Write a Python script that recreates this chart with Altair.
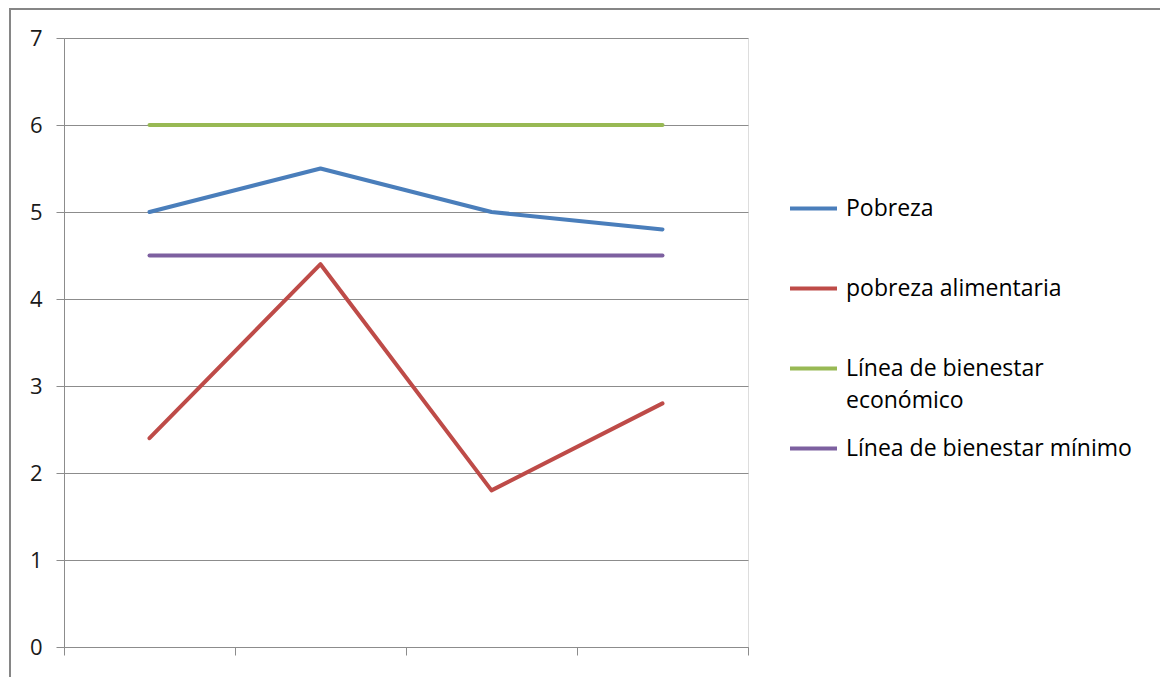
import altair as alt
import pandas as pd

# Periods along the horizontal axis (no labels shown on the axis)
periods = [1, 2, 3, 4]

series_names = [
    "Pobreza",
    "pobreza alimentaria",
    "Línea de bienestar económico",
    "Línea de bienestar mínimo",
]
pobreza = [5.0, 5.5, 5.0, 4.8]
pobreza_alimentaria = [2.4, 4.4, 1.8, 2.8]
bienestar_economico = [6.0, 6.0, 6.0, 6.0]
bienestar_minimo = [4.5, 4.5, 4.5, 4.5]

series_colors = ["#4A7EBB", "#BE4B48", "#98B954", "#7D60A0"]
y_ticks = [0, 1, 2, 3, 4, 5, 6, 7]
x_ticks = [0.5, 1.5, 2.5, 3.5, 4.5]

rows = []
for name, values in zip(
    series_names,
    [pobreza, pobreza_alimentaria, bienestar_economico, bienestar_minimo],
):
    for p, v in zip(periods, values):
        rows.append({"periodo": p, "valor": v, "serie": name})
df = pd.DataFrame(rows)

FONT = "Open Sans"
GRID = "#8c8c8c"

# Every legend label takes two lines so all rows share the same height;
# the long economic-line label wraps onto its second line.
label_expr = (
    "datum.label == 'Línea de bienestar económico' "
    "? ['Línea de bienestar', 'económico'] : [datum.label, '']"
)

lines = alt.Chart(df).mark_line(
    strokeWidth=4, strokeCap="round", strokeJoin="round"
).encode(
    x=alt.X(
        "periodo:Q",
        scale=alt.Scale(domain=[0.5, 4.5], nice=False, zero=False),
        axis=alt.Axis(
            values=x_ticks,
            labels=False,
            grid=False,
            ticks=True,
            tickSize=8,
            tickColor=GRID,
            domainColor=GRID,
            title=None,
        ),
    ),
    y=alt.Y(
        "valor:Q",
        scale=alt.Scale(domain=[0, 7], nice=False),
        axis=alt.Axis(
            values=y_ticks,
            grid=True,
            gridColor=GRID,
            tickSize=8,
            tickColor=GRID,
            domainColor=GRID,
            labelFont=FONT,
            labelFontSize=22,
            labelColor="#1a1a1a",
            labelPadding=14,
            title=None,
        ),
    ),
    color=alt.Color(
        "serie:N",
        scale=alt.Scale(domain=series_names, range=series_colors),
        legend=alt.Legend(
            title=None,
            orient="none",
            legendX=724,
            legendY=145,
            padding=0,
            symbolType="stroke",
            symbolSize=2209,
            symbolStrokeWidth=4,
            labelFont=FONT,
            labelFontSize=23,
            labelColor="#000000",
            labelOffset=7,
            labelLimit=0,
            rowPadding=10,
            labelExpr=label_expr,
        ),
    ),
)

# Outer frame of the chart
frame = alt.Chart(pd.DataFrame({"marco": [0]})).mark_rect(
    fill="transparent", stroke="#868686", strokeWidth=2
).encode(
    x=alt.value(-54),
    y=alt.value(-29),
    x2=alt.value(1200),
    y2=alt.value(700),
)

chart = alt.layer(frame, lines).properties(
    width=684,
    height=609,
    autosize=alt.AutoSizeParams(type="none"),
    padding={"left": 64, "top": 38, "right": 412, "bottom": 30},
    background="white",
).configure_view(
    strokeWidth=0
).configure(
    style={"guide-label": {"lineHeight": 32}}
)

chart.save("out.html", embed_options={"renderer": "svg", "actions": False})
